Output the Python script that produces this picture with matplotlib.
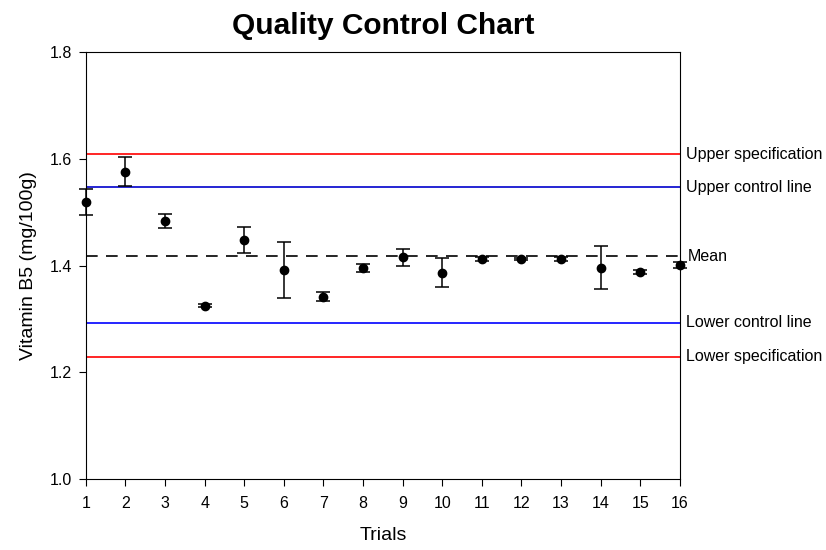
from matplotlib import pyplot as plt
from matplotlib import transforms
import numpy as np

plt.rcParams['font.family'] = ['Liberation Sans', 'DejaVu Sans']

trials = np.arange(1, 17)
vitamin_b5 = [1.519, 1.576, 1.484, 1.325, 1.448, 1.392, 1.342, 1.396,
              1.416, 1.387, 1.412, 1.413, 1.413, 1.396, 1.388, 1.401]
erro = [0.024, 0.027, 0.013, 0.003, 0.025, 0.053, 0.009, 0.007,
        0.016, 0.027, 0.004, 0.002, 0.004, 0.040, 0.004, 0.006]

linhas_nomes = ['Upper specification', 'Upper control line', 'Mean',
                'Lower control line', 'Lower specification']
linhas_valores = [1.609, 1.547, 1.418, 1.293, 1.229]
linhas_cores = ['#ff0000', '#0000cc', 'black', '#0000ff', '#ff0000']
linhas_estilos = ['-', '-', (0, (7, 5)), '-', '-']

fig = plt.figure(figsize=(8.26, 5.5), dpi=100)
ax = fig.add_axes([0.104, 0.129, 0.719, 0.776])

for valor, cor, estilo in zip(linhas_valores, linhas_cores, linhas_estilos):
    ax.axhline(valor, color=cor, linestyle=estilo, linewidth=1.2, zorder=1)

ax.errorbar(trials, vitamin_b5, yerr=erro, fmt='o', color='black',
            markersize=6, capsize=5, elinewidth=1.1, capthick=1.1,
            clip_on=False, zorder=3)

trans = transforms.blended_transform_factory(ax.transAxes, ax.transData)
for nome, valor in zip(linhas_nomes, linhas_valores):
    dx = 1.014 if nome == 'Mean' else 1.01
    ax.text(dx, valor, nome, transform=trans, va='center', ha='left',
            fontsize=11.5, clip_on=False)

ax.set_xlim(1, 16)
ax.set_ylim(1.0, 1.8)
ax.set_xticks(trials)
ax.set_yticks([1.0, 1.2, 1.4, 1.6, 1.8])
ax.yaxis.set_major_formatter(plt.FormatStrFormatter('%.1f'))
ax.tick_params(direction='out', length=5, labelsize=11.5, pad=5)
ax.tick_params(axis='x', pad=7)

ax.set_xlabel('Trials', fontsize=14, labelpad=12)
ax.set_ylabel('Vitamin B5 (mg/100g)', fontsize=14, labelpad=9)
ax.set_title('Quality Control Chart', fontsize=21.5, fontweight='bold', pad=13)

plt.savefig('out.png', dpi=100)
